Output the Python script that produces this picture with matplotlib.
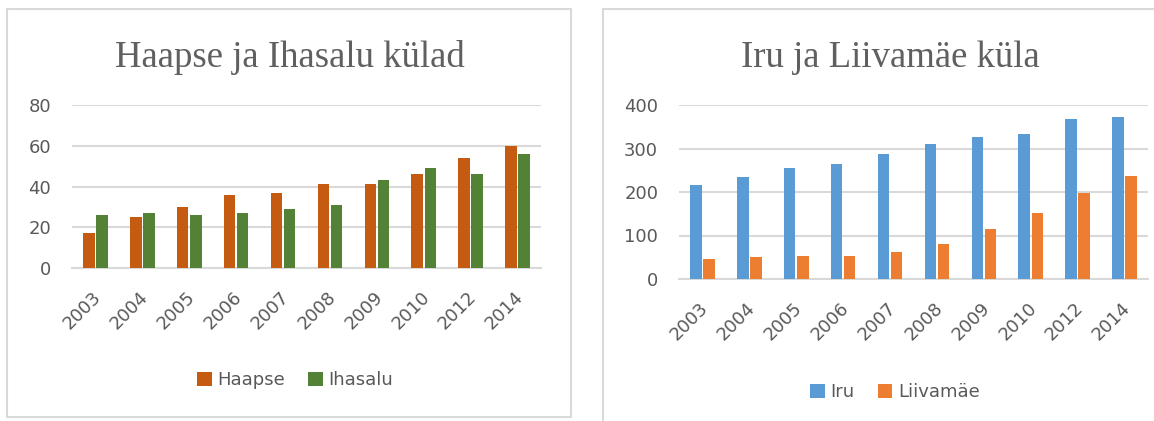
import matplotlib
matplotlib.use("Agg")
import matplotlib.pyplot as plt
from matplotlib.patches import Rectangle, Patch
import matplotlib.transforms as mtransforms
import numpy as np

years = ["2003", "2004", "2005", "2006", "2007", "2008", "2009", "2010", "2012", "2014"]
haapse = [17, 25, 30, 36, 37, 41, 41, 46, 54, 60]
ihasalu = [26, 27, 26, 27, 29, 31, 43, 49, 46, 56]
iru = [217, 234, 256, 265, 287, 311, 327, 334, 367, 373]
liivamae = [47, 50, 54, 54, 62, 81, 114, 152, 198, 236]

title_left = "Haapse ja Ihasalu külad"
title_right = "Iru ja Liivamäe küla"

W, H = 1154, 421
fig = plt.figure(figsize=(W / 100, H / 100), dpi=100)
fig.patch.set_facecolor("white")

grid_c = "#d9d9d9"
text_c = "#595959"
plt.rcParams["font.family"] = ["DejaVu Sans"]

# panel borders
fig.add_artist(Rectangle((7 / W, 1 - 417 / H), 564 / W, 408 / H, transform=fig.transFigure,
                         fill=False, edgecolor=grid_c, linewidth=1.5))
fig.add_artist(Rectangle((603 / W, -0.05), 0.6, 1 - 9 / H + 0.05, transform=fig.transFigure,
                         fill=False, edgecolor=grid_c, linewidth=1.5))


def make_panel(rect, s1, s2, c1, c2, n1, n2, ymax, step, title, tx, legy, legx):
    ax = fig.add_axes(rect)
    x = np.arange(len(years))
    bw = 0.245
    ax.bar(x - 0.14, s1, bw, color=c1, label=n1, zorder=3)
    ax.bar(x + 0.14, s2, bw, color=c2, label=n2, zorder=3)
    ax.set_xlim(-0.5, len(years) - 0.5)
    ax.set_ylim(0, ymax)
    ax.set_yticks(np.arange(0, ymax + 1, step))
    ax.yaxis.grid(True, color=grid_c, linewidth=1.5, zorder=0)
    ax.set_axisbelow(True)
    for s in ["top", "right", "left"]:
        ax.spines[s].set_visible(False)
    ax.spines["bottom"].set_color(grid_c)
    ax.spines["bottom"].set_linewidth(1.5)
    ax.tick_params(axis="y", length=0, pad=15, labelsize=13, labelcolor=text_c)
    ax.tick_params(axis="x", length=0, pad=19, labelsize=13, labelcolor=text_c)
    ax.set_xticks(x)
    ax.set_xticklabels(years, rotation=45, ha="right", va="center", rotation_mode="anchor")
    shift = mtransforms.ScaledTranslation(3 / 100, 0, fig.dpi_scale_trans)
    for lab in ax.get_xticklabels():
        lab.set_transform(lab.get_transform() + shift)
    fig.text(tx / W, 1 - 67 / H, title, ha="center", va="baseline",
             family="Liberation Serif", fontsize=26.5, color="#606060")
    handles = [Patch(facecolor=c1, label=n1), Patch(facecolor=c2, label=n2)]
    fig.legend(handles=handles, loc="center", bbox_to_anchor=(legx / W, 1 - legy / H),
               ncol=2, frameon=False, fontsize=13, labelcolor=text_c,
               handlelength=0.8, handleheight=0.8, handletextpad=0.3, columnspacing=1.3)
    return ax


make_panel([72 / W, 1 - 268 / H, 469 / W, 163 / H], haapse, ihasalu,
           "#C55A11", "#538135", "Haapse", "Ihasalu", 80, 20,
           title_left, 290, 380, 295)
make_panel([679 / W, 1 - 279 / H, 469 / W, 174 / H], iru, liivamae,
           "#5B9BD5", "#ED7D31", "Iru", "Liivamäe", 400, 100,
           title_right, 890, 392, 895)

fig.savefig("out.png", dpi=100, facecolor="white")
